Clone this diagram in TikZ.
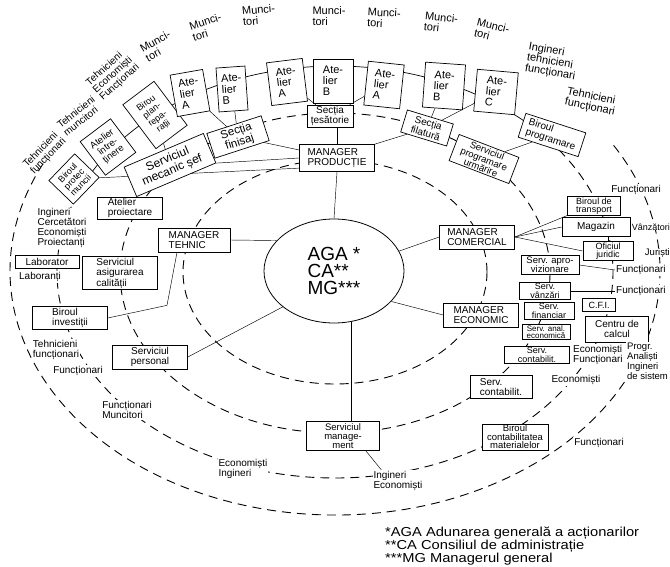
\documentclass[tikz,border=0pt]{standalone}
\usepackage{graphicx}
\usepackage{fontspec}
\setmainfont{Liberation Sans}
\usetikzlibrary{shapes.geometric,backgrounds}

\tikzset{
  box/.style={draw, fill=white, line width=0.7pt, inner sep=1pt, align=center,
              font=\fontsize{10}{10.5}\selectfont},
  mgr/.style={box, align=left, font=\fontsize{10}{10.5}\selectfont,
              minimum width=75pt, minimum height=25pt},
  atelier/.style={box, align=left, minimum width=38pt, minimum height=44pt,
                  font=\fontsize{11}{11}\selectfont},
  smallbox/.style={box, font=\fontsize{9}{8.5}\selectfont},
  lbl/.style={fill=white, inner sep=1pt, align=left, font=\fontsize{10}{10.5}\selectfont},
  toplbl/.style={inner sep=0pt, align=left, font=\fontsize{11}{11}\selectfont},
  foot/.style={anchor=west, inner sep=0pt, font=\fontsize{13}{13}\selectfont},
  ring/.style={line width=0.9pt, dash pattern=on 9pt off 6pt},
  link/.style={line width=0.45pt},
}

\begin{document}
\begin{tikzpicture}[x=1pt,y=-1pt]
\useasboundingbox (0,0) rectangle (670,567);

% centre
\node[ellipse, draw, fill=white, line width=0.8pt, minimum width=140pt, minimum height=104pt,
      inner sep=0pt, align=left, font=\fontsize{19}{17}\selectfont] (aga) at (334,271)
  {AGA *\\CA**\\MG***};

% managers (inner ring)
\node[mgr, minimum height=27pt] (prod) at (337,158) {MANAGER\\PRODUCȚIE};
\node[mgr, minimum width=72pt, minimum height=24pt] (tehnic) at (194,240) {MANAGER\\TEHNIC};
\node[mgr, minimum height=24pt] (comercial) at (477,237) {MANAGER\\COMERCIAL};
\node[mgr, minimum height=24pt] (economic) at (481,315) {MANAGER\\ECONOMIC};

% services (second ring)
\node[box, minimum width=46pt, minimum height=19pt, font=\fontsize{10}{9}\selectfont] (tesatorie) at (330,116) {Secția\\țesătorie};
\node[box, rotate=18, minimum width=57pt, minimum height=26pt, font=\fontsize{11.5}{11.5}\selectfont] (finisaj) at (238,137) {Secția\\finisaj};
\node[box, rotate=-17, minimum width=48pt, minimum height=23pt] (filatura) at (427,128) {Secția\\filatură};
\node[box, rotate=23, minimum width=86pt, minimum height=32pt, font=\fontsize{12}{12}\selectfont] (mecanic) at (170,165) {Serviciul\\mecanic șef};
\node[box, rotate=-21, minimum width=64pt, minimum height=28pt, font=\fontsize{9.5}{9}\selectfont] (urmarire) at (484,159) {Serviciul\\programare\\urmărire};
\node[box, align=left, minimum width=65pt, minimum height=21pt] (proiectare) at (130,208) {Atelier\\proiectare};
\node[box, align=left, minimum width=75pt, minimum height=33pt] (asigurare) at (120,273) {Serviciul\\asigurarea\\calității};
\node[box, minimum width=75pt, minimum height=24pt] (personal) at (150,357) {Serviciul\\personal};
\node[box, minimum width=73pt, minimum height=29pt, font=\fontsize{9.5}{9}\selectfont] (management) at (343,436) {Serviciul\\manage-\\ment};
\node[box, align=left, minimum width=62pt, minimum height=23pt] (contab2) at (501,387) {Serv.\\contabilit.};
\node[smallbox, minimum width=65pt, minimum height=17pt] (contab1) at (537,355) {Serv.\\contabilit.};
\node[smallbox, minimum width=48pt, minimum height=15pt, font=\fontsize{8}{7.5}\selectfont] (analec) at (546,332) {Serv. anal.\\economică};
\node[smallbox, minimum width=50pt, minimum height=16pt] (financiar) at (549,311) {Serv.\\financiar};
\node[smallbox, minimum width=51pt, minimum height=16pt] (vanzari) at (545,291) {Serv.\\vânzări};
\node[smallbox, minimum width=58pt, minimum height=19pt, font=\fontsize{9.5}{9}\selectfont] (aprov) at (550,265) {Serv. apro-\\vizionare};

% workshops and offices (third ring)
\node[box, rotate=46, minimum width=37pt, minimum height=34pt, font=\fontsize{9}{9}\selectfont] (protec) at (74,179) {Biroul\\protec\\muncii};
\node[box, rotate=37, minimum width=38pt, minimum height=42pt, font=\fontsize{9.5}{9.5}\selectfont] (intretinere) at (108,147) {Atelier\\între-\\ținere};
\node[box, rotate=37, minimum width=39pt, minimum height=55pt, font=\fontsize{9}{9.5}\selectfont] (planrep) at (155,115) {Birou\\plan-\\repa-\\rații};
\node[atelier, rotate=10, minimum width=33pt, minimum height=42pt] (a1) at (190,93) {Ate-\\lier\\A};
\node[atelier, rotate=4, minimum width=29pt] (b2) at (232,89) {Ate-\\lier\\B};
\node[atelier, rotate=7, minimum width=36pt, minimum height=43pt] (a3) at (287,82) {Ate-\\lier\\A};
\node[atelier, minimum width=40pt] (b4) at (333,81) {Ate-\\lier\\B};
\node[atelier, rotate=-6, minimum width=36pt] (a5) at (384,85) {Ate-\\lier\\A};
\node[atelier, rotate=-4, minimum width=40pt, minimum height=45pt] (b6) at (444,86) {Ate-\\lier\\B};
\node[atelier, rotate=-5, minimum width=41pt, minimum height=42pt] (c7) at (496,92) {Ate-\\lier\\C};
\node[box, rotate=-18, align=left, minimum width=63pt, minimum height=25pt] (bprog) at (552,135) {Biroul\\programare};
\node[smallbox, minimum width=53pt, minimum height=17pt, font=\fontsize{9}{8}\selectfont] (transport) at (594,206) {Biroul de\\transport};
\node[box, minimum width=68pt, minimum height=19pt] (magazin) at (596,227) {Magazin};
\node[smallbox, minimum width=50pt, minimum height=19pt] (juridic) at (608,251) {Oficiul\\juridic};
\node[smallbox, minimum width=33pt, minimum height=13pt] (cfi) at (599,305) {C.F.I.};
\node[box, minimum width=63pt, minimum height=26pt] (calcul) at (617,329) {Centru de\\calcul};
\node[box, minimum width=66pt, minimum height=25pt, font=\fontsize{9.5}{8.5}\selectfont] (bcontab) at (515,437) {Biroul\\contabilitatea\\materialelor};
\node[box, minimum width=64pt, minimum height=13pt] (laborator) at (47,262) {Laborator};
\node[box, align=left, minimum width=75pt, minimum height=23pt] (investitii) at (70,318) {Biroul\\investiții};

% staff labels
\node[lbl] (laboranti) at (40,277) {Laboranți};
\node[lbl, font=\fontsize{10}{9.8}\selectfont] (cercet) at (62,228) {Ingineri\\Cercetători\\Economiști\\Proiectanți};
\node[lbl] (tehnfunc) at (56,350) {Tehnicieni\\funcționari};
\node[lbl] (funcl) at (78,371) {Funcționari};
\node[lbl] (funcmunc) at (127,410) {Funcționari\\Muncitori};
\node[lbl] (econing) at (243,469) {Economiști\\Ingineri};
\node[lbl] (ingecon) at (398,481) {Ingineri\\Economiști};
\node[lbl] (funcbot) at (599,443) {Funcționari};
\node[lbl] (econr) at (576,380) {Economiști};
\node[lbl, anchor=west] (econfunc) at (572,355) {Economiști\\Funcționari};
\node[lbl, anchor=west, font=\fontsize{9.5}{8.8}\selectfont] (progr) at (626,361) {Progr.\\Analiști\\Ingineri\\de sistem};
\node[lbl, anchor=west] (f1) at (615,270) {Funcționari};
\node[lbl, anchor=west] (f2) at (615,291) {Funcționari};
\node[lbl, anchor=east, inner sep=0pt, font=\fontsize{9.5}{9}\selectfont] (juristi) at (670,253) {Juriști};
\node[lbl, anchor=east, inner sep=0pt, font=\fontsize{9}{9}\selectfont] (vanzatori) at (670,227) {Vânzători};
\node[lbl] (functop) at (636,190) {Funcționari};

% outer labels
\node[toplbl, rotate=46, font=\fontsize{10}{10}\selectfont] (t1) at (45,153) {Tehnicieni\\funcționari};
\node[toplbl, rotate=38, font=\fontsize{10}{10}\selectfont] (t2) at (79,116) {Tehnicieni\\muncitori};
\node[toplbl, rotate=42, font=\fontsize{10}{10}\selectfont] (t3) at (113,75) {Tehnicieni\\Economiști\\Funcționari};
\node[toplbl, rotate=30] (m1) at (158,46) {Munci-\\tori};
\node[toplbl, rotate=18] (m2) at (207,27) {Munci-\\tori};
\node[toplbl, rotate=5] (m3) at (259,15) {Munci-\\tori};
\node[toplbl] (m4) at (329,16) {Munci-\\tori};
\node[toplbl, rotate=-3] (m5) at (384,18) {Munci-\\tori};
\node[toplbl, rotate=-6] (m6) at (441,23) {Munci-\\tori};
\node[toplbl, rotate=-14] (m7) at (492,31) {Munci-\\tori};
\node[toplbl, rotate=-10] (t4) at (552,62) {Ingineri\\tehnicieni\\funcționari};
\node[toplbl, rotate=-12] (t5) at (591,102) {Tehnicieni\\funcționari};

% legend
\node[foot] (n1) at (385,533) {\scalebox{1.13}[1]{*AGA Adunarea generală a acționarilor}};
\node[foot] (n2) at (385,546) {\scalebox{1.13}[1]{**CA Consiliul de administrație}};
\node[foot] (n3) at (385,559) {\scalebox{1.13}[1]{***MG Managerul general}};

\begin{scope}[on background layer]
  % rings
  \draw[ring] (335,272) ellipse [x radius=152, y radius=112];
  \draw[ring] (335,273) ellipse [x radius=215, y radius=160];
  \draw[line width=0.7pt] (335,272) ++(-154:278 and 206)
    arc [start angle=-154, end angle=-40, x radius=278, y radius=206];
  \draw[ring] (335,272) ++(-40:278 and 206)
    arc [start angle=-40, end angle=206, x radius=278, y radius=206];
  \draw[ring] (335,271) ++(-31:325 and 244)
    arc [start angle=-31, end angle=207, x radius=325, y radius=244];

  % links
  \draw[link] (aga.north) -- (prod.south);
  \draw[link] (prod.north) -- (prod.north |- tesatorie.south);
  \draw[link] (tehnic.east) -- (aga.152);
  \draw[link] (aga.17) -- (comercial.west);
  \draw[link] (aga.-28) -- (economic.west);
  \draw[link] (aga.215) -- (personal.east);
  \draw[link] (aga.-71) -- (aga.-71 |- management.north);
  \draw[link] ([xshift=-17pt]tehnic.south) -- ++(-10,53) -- (investitii.east);
  \draw[link] (finisaj) -- (prod);
  \draw[link] (mecanic.south east) -- (prod.west);
  \draw[link] (protec) -- (prod.195);
  \draw[link] (planrep) -- (mecanic);
  \draw[link] (a1) -- (finisaj);
  \draw[link] (b2) -- (finisaj);
  \draw[link] (a3) -- (tesatorie);
  \draw[link] (b4) -- (tesatorie);
  \draw[link] (a5) -- (tesatorie);
  \draw[link] (b6) -- (filatura);
  \draw[link] (c7) -- (filatura);
  \draw[link] (prod.north east) -- (filatura);
  \draw[link] (urmarire) -- (bprog);
  \draw[link] (comercial.east) -- (transport.south west);
  \draw[link] (comercial.east) -- (magazin.west);
  \draw[link] (comercial.east) -- (juridic.west);
  \draw[link] (juridic.north) -- (juridic.north |- magazin.south);
  \draw[link] (aprov.east) -- (f1.west);
  \draw[link] (vanzari.east) -- (f2.west);
  \draw[link] ([xshift=-14pt]management.south east) -- ([xshift=9pt]ingecon.north west);
\end{scope}
\end{tikzpicture}
\end{document}
